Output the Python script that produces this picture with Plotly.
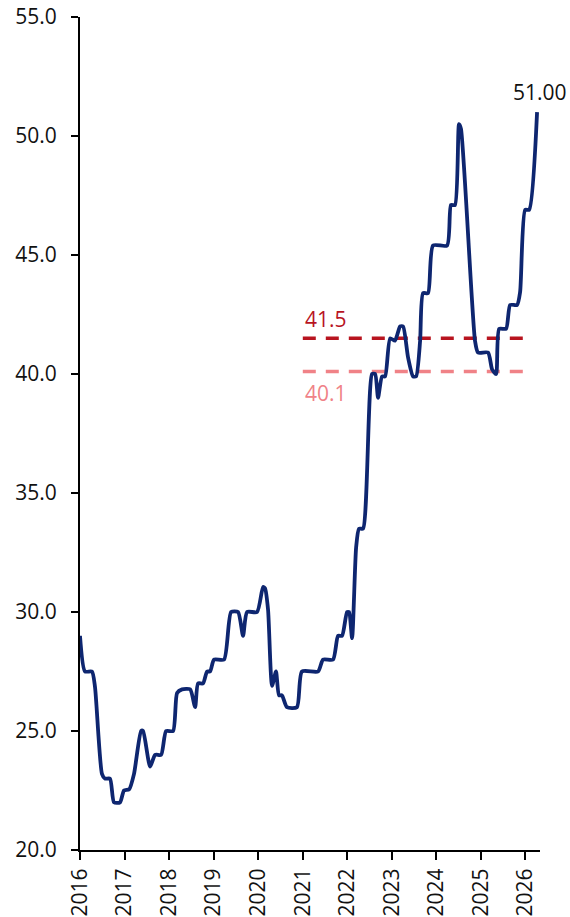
import plotly.graph_objects as go

# Observation dates and index values
dates = [
    "2016-01-01", "2016-02-11", "2016-04-08", "2016-05-03", "2016-06-29", "2016-07-24",
    "2016-09-03", "2016-10-06", "2016-11-24", "2016-12-27", "2017-02-07", "2017-03-19",
    "2017-05-16", "2017-06-01", "2017-07-29", "2017-09-08", "2017-10-27", "2017-12-07",
    "2018-02-02", "2018-03-07", "2018-04-17", "2018-06-22", "2018-08-02", "2018-08-26",
    "2018-10-06", "2018-11-08", "2018-12-03", "2019-01-04", "2019-03-27", "2019-05-24",
    "2019-07-20", "2019-08-30", "2019-10-02", "2019-12-23", "2020-02-10", "2020-02-26",
    "2020-03-22", "2020-04-24", "2020-05-26", "2020-06-20", "2020-07-14", "2020-08-24",
    "2020-11-14", "2020-12-25", "2021-05-06", "2021-06-16", "2021-09-06", "2021-10-17",
    "2021-11-19", "2021-12-30", "2022-01-15", "2022-02-09", "2022-03-14", "2022-04-07",
    "2022-05-10", "2022-07-23", "2022-08-17", "2022-09-10", "2022-10-13", "2022-11-07",
    "2022-12-18", "2023-01-27", "2023-03-10", "2023-04-03", "2023-05-14", "2023-06-24",
    "2023-07-19", "2023-08-21", "2023-09-14", "2023-10-25", "2023-12-05", "2024-03-29",
    "2024-04-30", "2024-06-02", "2024-07-05", "2024-07-21", "2024-11-13", "2024-12-08",
    "2025-02-28", "2025-04-02", "2025-05-05", "2025-05-30", "2025-07-26", "2025-08-28",
    "2025-10-24", "2025-11-18", "2025-12-29", "2026-01-31", "2026-04-06",
]
values = [
    29.0, 27.5, 27.5, 26.85, 23.2, 23.0,
    23.0, 22.0, 22.0, 22.5, 22.55, 23.2,
    25.0, 25.0, 23.5, 24.0, 24.0, 25.0,
    25.0, 26.6, 26.75, 26.75, 26.0, 27.0,
    27.0, 27.5, 27.5, 28.0, 28.0, 30.0,
    30.0, 29.0, 30.0, 30.0, 31.05, 31.0,
    30.1, 26.9, 27.5, 26.5, 26.5, 26.0,
    26.0, 27.5, 27.5, 28.0, 28.0, 29.0,
    29.0, 30.0, 30.0, 28.9, 32.7, 33.5,
    33.5, 40.0, 40.0, 39.0, 39.9, 39.9,
    41.5, 41.4, 42.0, 42.0, 40.7, 39.9,
    39.9, 41.4, 43.4, 43.4, 45.4, 45.4,
    47.1, 47.1, 50.5, 50.3, 41.4, 40.9,
    40.9, 40.2, 40.0, 41.9, 41.9, 42.9,
    42.9, 43.45, 46.9, 46.9, 51.0,
]

# Reference levels
ref_start, ref_end = "2021-01-01", "2026-01-01"
level_high = 41.5
level_low = 40.1

year_ticks = [f"{y}-01-01" for y in range(2016, 2027)]
year_labels = [str(y) for y in range(2016, 2027)]

NAVY = "#0E2670"
DARK_RED = "#B8141F"
PINK = "#F08287"
FONT = "Open Sans, Liberation Sans, sans-serif"
FS = 21

fig = go.Figure()

fig.add_trace(go.Scatter(
    x=[ref_start, ref_end], y=[level_high, level_high], mode="lines",
    line=dict(color=DARK_RED, width=3.5, dash="13px,10px"), hoverinfo="skip",
))
fig.add_trace(go.Scatter(
    x=[ref_start, ref_end], y=[level_low, level_low], mode="lines",
    line=dict(color=PINK, width=3.5, dash="13px,10px"), hoverinfo="skip",
))
fig.add_trace(go.Scatter(
    x=dates, y=values, mode="lines",
    line=dict(color=NAVY, width=3.8, shape="spline", smoothing=0.6),
))

fig.add_annotation(x=ref_start, y=level_high, text=f"{level_high:.1f}",
                   xanchor="left", yanchor="bottom", yshift=3, showarrow=False,
                   font=dict(color=DARK_RED, size=FS, family=FONT))
fig.add_annotation(x=ref_start, y=level_low, text=f"{level_low:.1f}",
                   xanchor="left", yanchor="top", yshift=-5, showarrow=False,
                   font=dict(color=PINK, size=FS, family=FONT))
fig.add_annotation(x=dates[-1], y=values[-1], text=f"{values[-1]:.2f}",
                   xanchor="center", yanchor="bottom", yshift=4, xshift=3,
                   showarrow=False,
                   font=dict(color="#111111", size=FS, family=FONT))

fig.update_layout(
    width=570, height=917,
    margin=dict(l=80, r=30, t=17, b=67),
    paper_bgcolor="white", plot_bgcolor="white",
    showlegend=False,
    font=dict(family=FONT, size=FS, color="#111111"),
)
fig.update_xaxes(
    type="date", range=["2016-01-01", "2026-04-30"], automargin=False,
    tickvals=year_ticks, ticktext=year_labels, tickangle=-90,
    ticks="outside", ticklen=8, tickwidth=2, tickcolor="black",
    showline=True, linecolor="black", linewidth=2,
    showgrid=False, zeroline=False,
)
fig.update_yaxes(
    range=[20, 55], dtick=5, tick0=20, tickformat=".1f", automargin=False,
    ticks="outside", ticklen=7, tickwidth=2, tickcolor="black",
    ticklabelstandoff=10,
    showline=True, linecolor="black", linewidth=2,
    showgrid=False, zeroline=False,
)

fig.write_html("out.html")
